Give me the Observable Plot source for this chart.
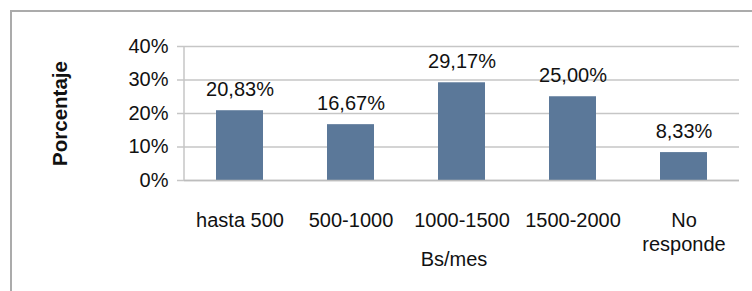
<!DOCTYPE html>
<html><head><meta charset="utf-8">
<script src="https://cdn.jsdelivr.net/npm/d3@7"></script>
<script src="https://cdn.jsdelivr.net/npm/@observablehq/plot@0.6"></script>
<style>
body{margin:0;background:#fff;}
#wrap{position:relative;width:752px;height:291px;overflow:hidden;background:#fff;}
#border{position:absolute;left:10px;top:10px;width:800px;height:400px;border:2px solid #ababab;box-sizing:border-box;}
#chart{position:absolute;left:0;top:0;}
</style></head><body>
<div id="wrap"><div id="border"></div><div id="chart"></div></div>
<script>
const categories = ["hasta 500", "500-1000", "1000-1500", "1500-2000", "No responde"];
const values = [20.83, 16.67, 29.17, 25.00, 8.33];
const valueLabels = ["20,83%", "16,67%", "29,17%", "25,00%", "8,33%"];
const yTicks = [0, 10, 20, 30, 40];
const yTickLabels = ["0%", "10%", "20%", "30%", "40%"];
const xTitle = "Bs/mes";
const yTitle = "Porcentaje";

const data = categories.map((c, i) => ({c, v: values[i], l: valueLabels[i]}));

const chart = Plot.plot({
  width: 752,
  height: 291,
  marginLeft: 184,
  marginRight: 13,
  marginTop: 46,
  marginBottom: 111,
  style: {fontFamily: "'Liberation Sans', Arial, sans-serif", fontSize: "20px", background: "transparent", color: "#111"},
  x: {domain: categories, paddingInner: 0.575, paddingOuter: 0.2875},
  y: {domain: [0, 40]},
  marks: [
    Plot.gridY(yTicks, {stroke: "#c6c6c6", strokeOpacity: 1, strokeWidth: 1.5}),
    Plot.barY(data, {x: "c", y: "v", fill: "#5b7899"}),
    Plot.text(data, {x: "c", y: "v", text: "l", lineAnchor: "bottom", dy: -15, fontSize: 20, fill: "#111"}),
    Plot.ruleY([0], {stroke: "#bdbdbd", strokeWidth: 1.5}),
    Plot.axisX({tickSize: 0, tickPadding: 29, lineHeight: 1.2, label: null,
      tickFormat: d => d === "No responde" ? "No\nresponde" : d, fill: "#111"}),
    Plot.axisY({ticks: yTicks, tickFormat: d => yTickLabels[yTicks.indexOf(d)], tickSize: 7, tickPadding: 9,
      stroke: "#c6c6c6", strokeWidth: 1.5, fill: "#111", label: null}),
    Plot.text([yTitle], {frameAnchor: "left", textAnchor: "middle", lineAnchor: "middle", dx: -124.5, rotate: -90, fontWeight: "bold", fontSize: 20.5, fill: "#111"}),
    Plot.text([xTitle], {frameAnchor: "bottom", dy: 85, dx: -8, fontSize: 20, fill: "#111"})
  ]
});

const ys = chart.scale("y");
d3.select(chart).append("line")
  .attr("x1", 184).attr("x2", 184)
  .attr("y1", ys.apply(40)).attr("y2", ys.apply(0))
  .attr("stroke", "#c6c6c6").attr("stroke-width", 1.5);

document.getElementById("chart").appendChild(chart);
</script>
</body></html>
